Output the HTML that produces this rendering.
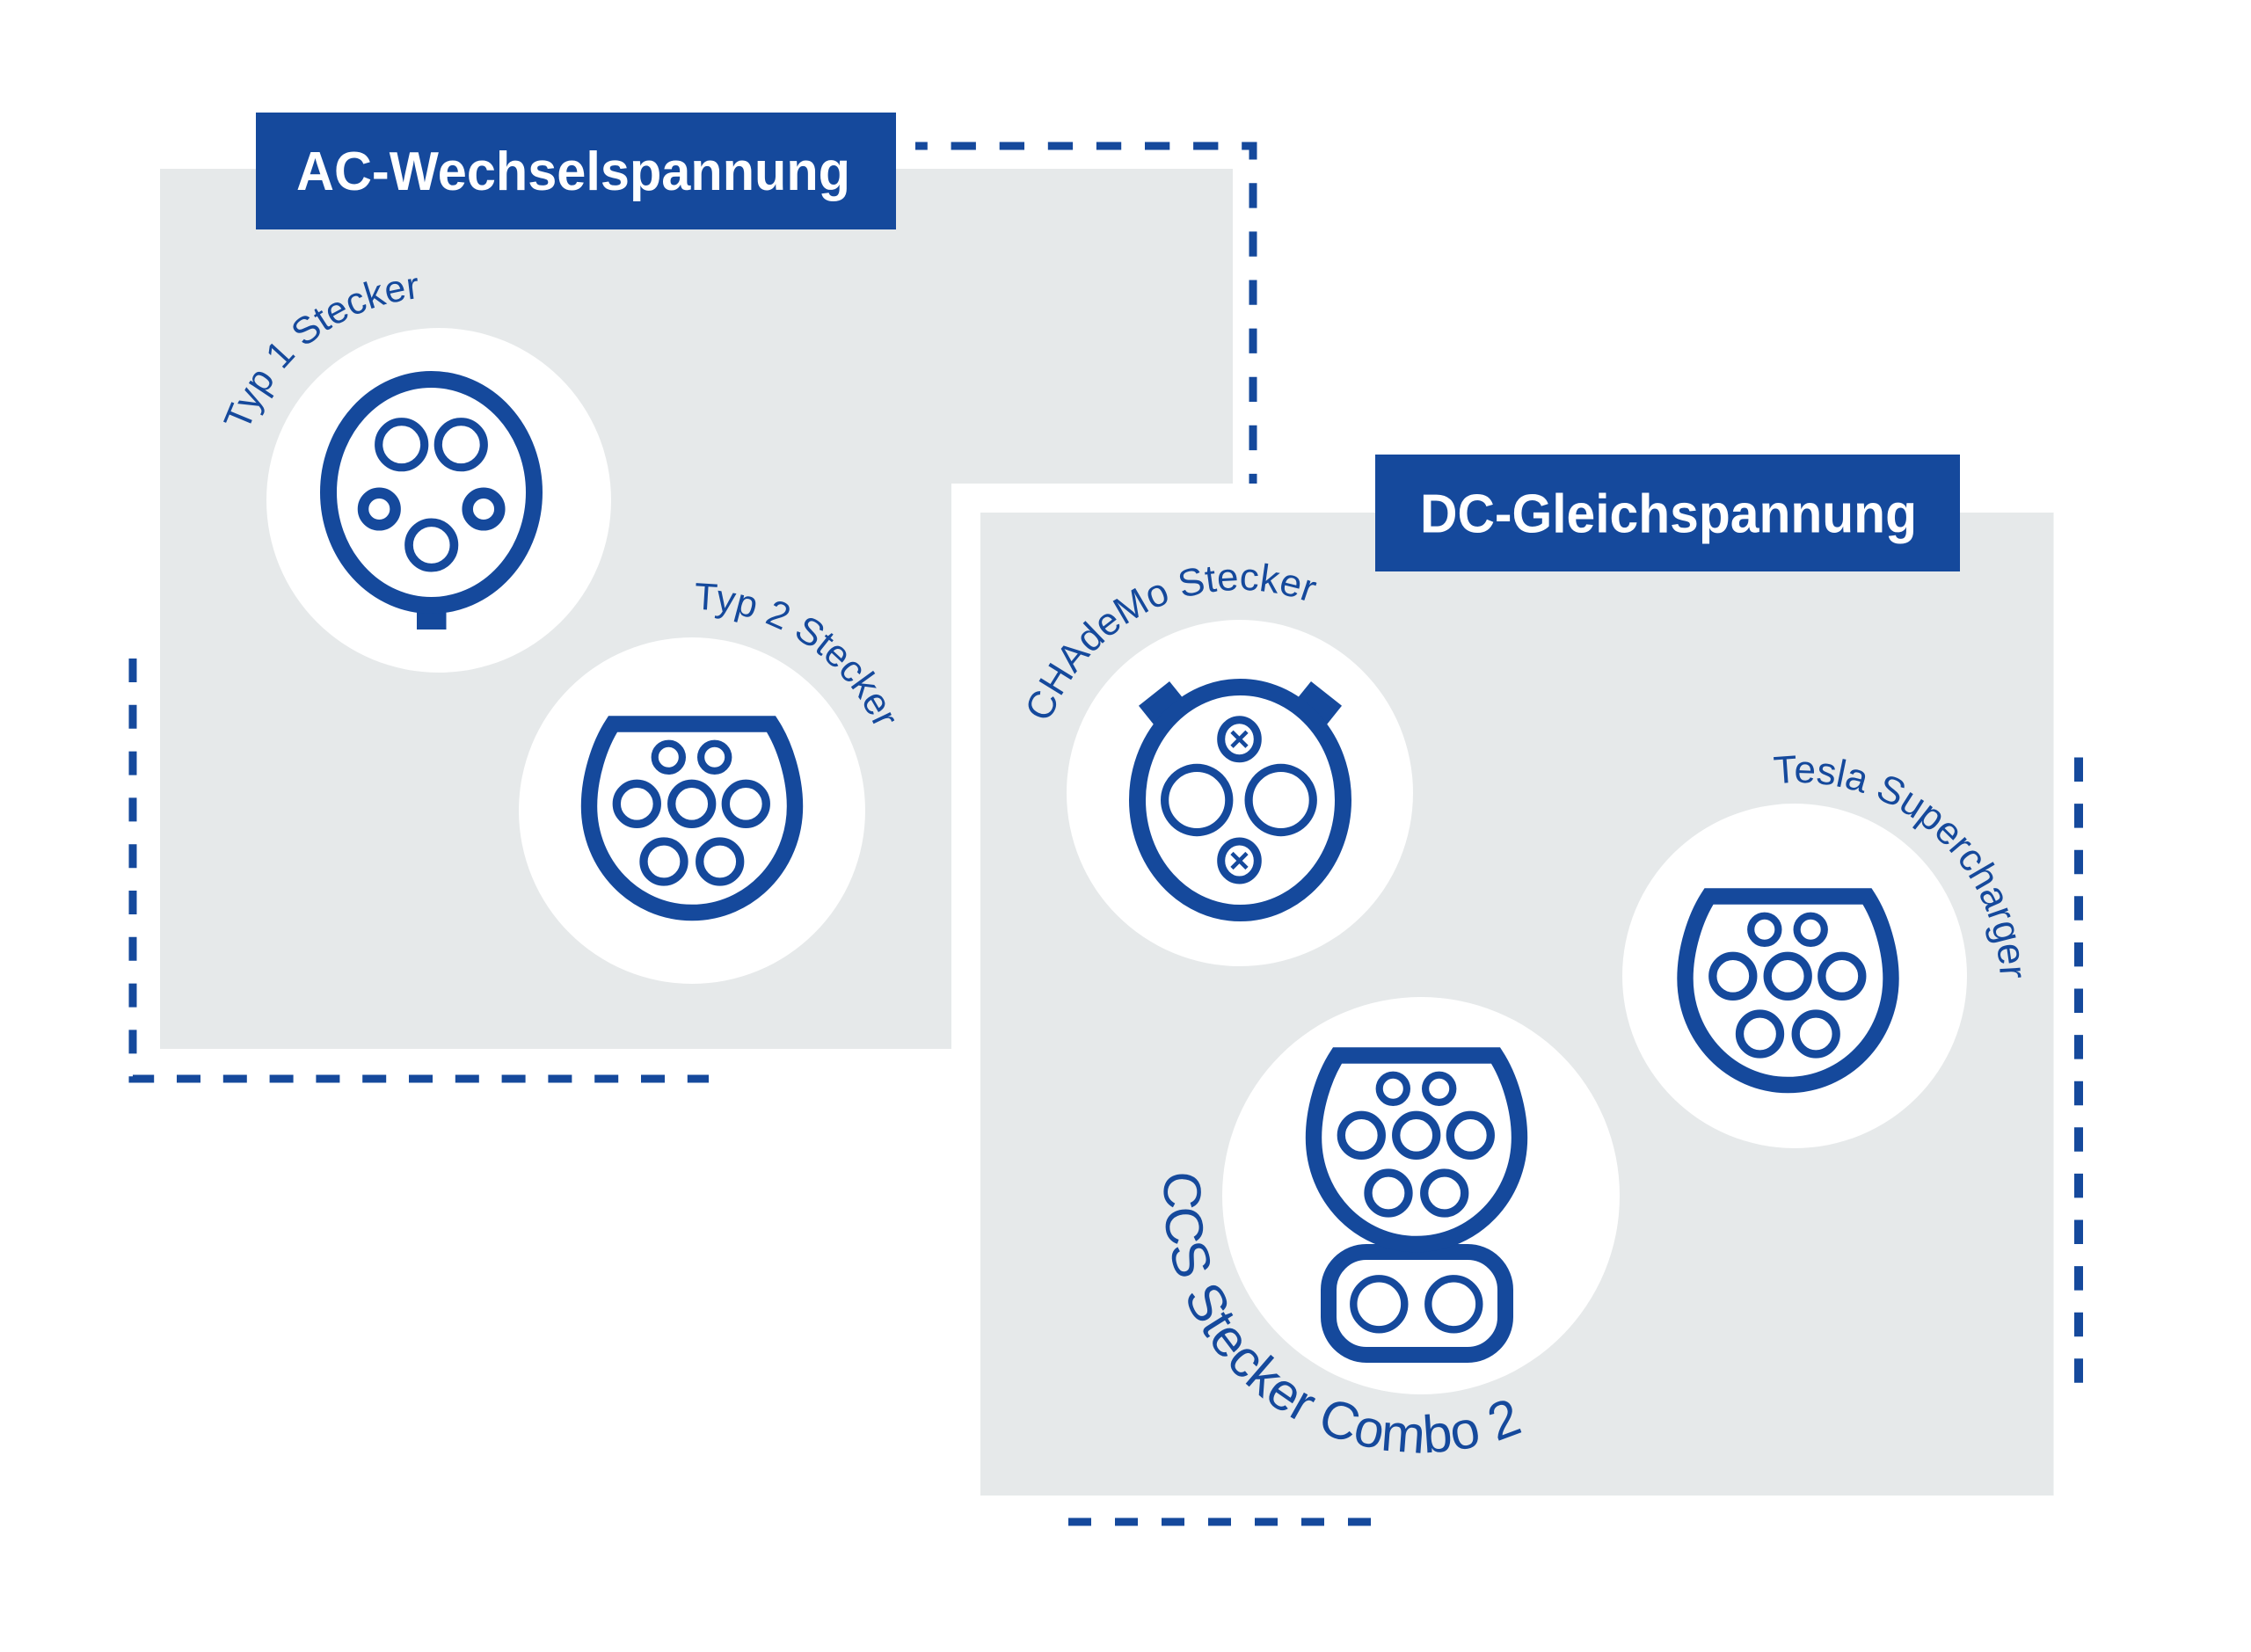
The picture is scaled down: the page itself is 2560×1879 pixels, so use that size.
<!DOCTYPE html>
<html>
<head>
<meta charset="utf-8">
<style>
  html, body { margin: 0; padding: 0; background: #ffffff; }
  svg { display: block; }
</style>
</head>
<body>
<svg width="2560" height="1879" viewBox="0 0 2560 1879" xmlns="http://www.w3.org/2000/svg" xmlns:xlink="http://www.w3.org/1999/xlink">
  <defs>
    <!-- Type 2 style connector (reused for Typ 2, Tesla, CCS upper part) -->
    <g id="t2">
      <path d="M 697 823.5 L 877 823.5 C 893 848 904 885 904 917 C 904 984 852 1038 787 1038 C 722 1038 670 984 670 917 C 670 885 681 848 697 823.5 Z" fill="#ffffff" stroke="#15499c" stroke-width="18.4" stroke-linejoin="miter"/>
      <g fill="none" stroke="#15499c">
        <circle cx="760.3" cy="861.3" r="15.6" stroke-width="8.2"/>
        <circle cx="812.7" cy="861.3" r="15.6" stroke-width="8.2"/>
        <circle cx="724.3" cy="914.3" r="23" stroke-width="9.3"/>
        <circle cx="786.7" cy="914.3" r="23" stroke-width="9.3"/>
        <circle cx="848.3" cy="914.3" r="23" stroke-width="9.3"/>
        <circle cx="755" cy="980" r="23" stroke-width="9.3"/>
        <circle cx="818.7" cy="980" r="23" stroke-width="9.3"/>
      </g>
    </g>
    <path id="arcT1" d="M 281.3 491.9 A 231 231 0 0 1 647.5 392.1" fill="none"/>
    <path id="arcT2" d="M 789 693 A 229 229 0 0 1 1012.5 961.8" fill="none"/>
    <path id="arcCH" d="M 1192.9 823 A 231 231 0 0 1 1610 786.5" fill="none"/>
    <path id="arcTS" d="M 2018.2 891.6 A 230 230 0 0 1 2244.2 1235" fill="none"/>
    <path id="arcCCS" d="M 1325.3 1332 A 292 292 0 0 0 1803.7 1583.7" fill="none"/>
  </defs>

  <rect x="0" y="0" width="2560" height="1879" fill="#ffffff"/>

  <!-- ===== AC panel ===== -->
  <rect x="182" y="192" width="1220" height="1001" fill="#e6e9ea"/>

  <!-- AC dashed lines -->
  <path d="M 1041 166 H 1425 V 550" fill="none" stroke="#15499c" stroke-width="9" stroke-dasharray="28.3 26.8" stroke-dashoffset="14.5"/>
  <path d="M 151 749 V 1227 H 806" fill="none" stroke="#15499c" stroke-width="9" stroke-dasharray="27 25.8"/>

  <!-- AC header -->
  <rect x="291" y="128" width="728" height="133" fill="#15499c"/>
  <text x="337" y="216" font-family="'Liberation Sans', Arial, sans-serif" font-weight="bold" font-size="62" fill="#ffffff" textLength="630" lengthAdjust="spacingAndGlyphs">AC-Wechselspannung</text>

  <!-- Typ 1 -->
  <circle cx="499" cy="569" r="196" fill="#ffffff"/>
  <rect x="474" y="688" width="33.5" height="28" fill="#15499c"/>
  <ellipse cx="490.5" cy="560" rx="117" ry="128.5" fill="none" stroke="#15499c" stroke-width="19"/>
  <g fill="none" stroke="#15499c">
    <circle cx="456.7" cy="505.7" r="26" stroke-width="9.2"/>
    <circle cx="524.3" cy="505.7" r="26" stroke-width="9.2"/>
    <circle cx="431.3" cy="579" r="18.3" stroke-width="12.5"/>
    <circle cx="550" cy="579" r="18.3" stroke-width="12.5"/>
    <circle cx="490.7" cy="620" r="25.7" stroke-width="9.7"/>
  </g>
  <text font-family="'Liberation Sans', Arial, sans-serif" font-size="43" fill="#15499c"><textPath xlink:href="#arcT1" href="#arcT1">Typ 1 Stecker</textPath></text>

  <!-- Typ 2 -->
  <circle cx="787" cy="922" r="197" fill="#ffffff"/>
  <use xlink:href="#t2" href="#t2"/>
  <text font-family="'Liberation Sans', Arial, sans-serif" font-size="43" fill="#15499c"><textPath xlink:href="#arcT2" href="#arcT2">Typ 2 Stecker</textPath></text>

  <!-- ===== DC panel ===== -->
  <rect x="1082" y="550" width="1286" height="1184" fill="#ffffff"/>
  <rect x="1115" y="583" width="1220.5" height="1118" fill="#e6e9ea"/>

  <!-- DC dashed lines -->
  <path d="M 1215 1731 H 1559" fill="none" stroke="#15499c" stroke-width="9" stroke-dasharray="26 27"/>
  <path d="M 2364 861.5 V 1574" fill="none" stroke="#15499c" stroke-width="10" stroke-dasharray="27.5 25.1"/>

  <!-- DC header -->
  <rect x="1564" y="517" width="665" height="133" fill="#15499c"/>
  <text x="1615" y="605.5" font-family="'Liberation Sans', Arial, sans-serif" font-weight="bold" font-size="62" fill="#ffffff" textLength="565" lengthAdjust="spacingAndGlyphs">DC-Gleichspannung</text>

  <!-- CHAdeMo -->
  <circle cx="1410" cy="902" r="197" fill="#ffffff"/>
  <polygon points="1295,802.7 1330,775 1351,801 1316,829" fill="#15499c"/>
  <polygon points="1526,802.7 1491,775 1470,801 1505,829" fill="#15499c"/>
  <ellipse cx="1410.5" cy="910" rx="117" ry="128.5" fill="none" stroke="#15499c" stroke-width="19"/>
  <g fill="none" stroke="#15499c">
    <circle cx="1361.2" cy="910" r="36.6" stroke-width="9.2"/>
    <circle cx="1456.7" cy="910" r="36.6" stroke-width="9.2"/>
    <ellipse cx="1409.5" cy="840.7" rx="20.8" ry="22" stroke-width="9"/>
    <ellipse cx="1409.5" cy="979" rx="20.8" ry="22" stroke-width="9"/>
    <path d="M 1401 832.2 L 1418 849.2 M 1401 849.2 L 1418 832.2" stroke-width="4.6"/>
    <path d="M 1401 970.5 L 1418 987.5 M 1401 987.5 L 1418 970.5" stroke-width="4.6"/>
  </g>
  <text font-family="'Liberation Sans', Arial, sans-serif" font-size="44" fill="#15499c"><textPath xlink:href="#arcCH" href="#arcCH">CHAdeMo Stecker</textPath></text>

  <!-- Tesla -->
  <circle cx="2041" cy="1110" r="196" fill="#ffffff"/>
  <use xlink:href="#t2" href="#t2" transform="translate(1246.5,196)"/>
  <text font-family="'Liberation Sans', Arial, sans-serif" font-size="44" fill="#15499c"><textPath xlink:href="#arcTS" href="#arcTS">Tesla Supercharger</textPath></text>

  <!-- CCS Combo 2 -->
  <circle cx="1616" cy="1360" r="226" fill="#ffffff"/>
  <rect x="1511" y="1424" width="201" height="117" rx="43" ry="43" fill="#ffffff" stroke="#15499c" stroke-width="18"/>
  <use xlink:href="#t2" href="#t2" transform="translate(824,377)"/>
  <g fill="none" stroke="#15499c">
    <circle cx="1568.3" cy="1483.3" r="29" stroke-width="8.4"/>
    <circle cx="1653.3" cy="1483.3" r="29" stroke-width="8.4"/>
  </g>
  <text font-family="'Liberation Sans', Arial, sans-serif" font-size="60" fill="#15499c"><textPath xlink:href="#arcCCS" href="#arcCCS">CCS Stecker Combo 2</textPath></text>
</svg>
</body>
</html>
